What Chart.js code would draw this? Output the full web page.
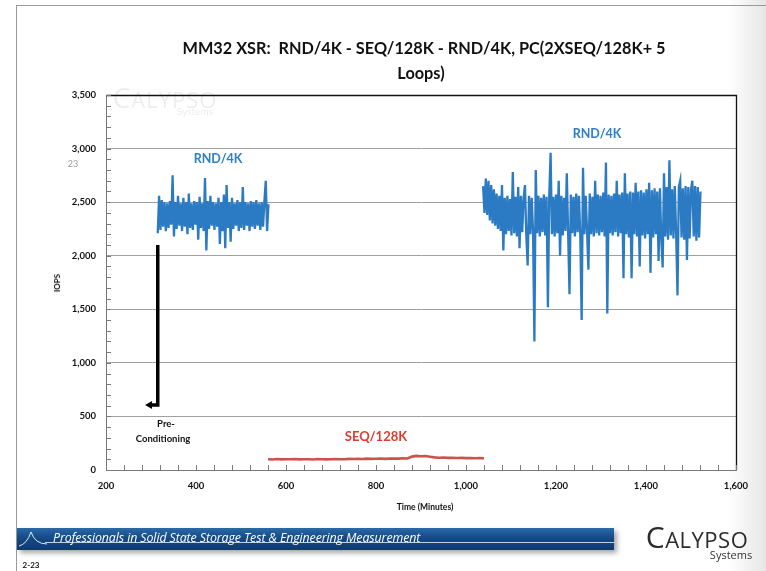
<!DOCTYPE html>
<html>
<head>
<meta charset="utf-8">
<script src="https://cdn.jsdelivr.net/npm/chart.js@4.4.1/dist/chart.umd.min.js"></script>
<style>
  html,body{margin:0;padding:0;}
  body{width:766px;height:571px;overflow:hidden;position:relative;
    background:linear-gradient(to right,#ffffff 0%,#ffffff 95%,#e6e6e6 100%);
    font-family:Lato,"Open Sans",sans-serif;}
  #frameTop{position:absolute;left:16px;top:5px;width:750px;height:1px;background:#9a9a9a;}
  #frameLeft{position:absolute;left:16px;top:5px;width:1px;height:566px;background:#9a9a9a;}
  canvas{position:absolute;left:0;top:0;}
  .t{position:absolute;white-space:nowrap;transform:translate(-50%,-50%);font-weight:700;}
  #banner{position:absolute;left:17px;top:528px;width:597px;height:22px;
    background:linear-gradient(to bottom,#2a6aa8 0%,#154a85 45%,#0f3a6c 100%);
    box-shadow:3px 3px 5px rgba(0,0,0,0.35);}
  #bannerLine{position:absolute;left:28px;top:14px;width:569px;height:1px;background:rgba(220,235,250,0.85);}
  #bannerText{position:absolute;left:36px;top:1px;color:#ffffff;font-style:italic;font-size:12.4px;
    font-family:"Open Sans",Lato,sans-serif;letter-spacing:-0.1px;}
</style>
</head>
<body>
<div id="frameTop"></div>
<div id="frameLeft"></div>
<canvas id="c" width="766" height="571"></canvas>

<!-- watermark -->
<div class="t" style="left:165px;top:97px;font-size:22px;font-weight:400;color:rgba(0,0,0,0.07);letter-spacing:1px;font-family:'Open Sans'"><span style="font-size:28px">C</span>ALYPSO</div>
<div class="t" style="left:195px;top:111px;font-size:10px;font-weight:400;color:rgba(0,0,0,0.08);">Systems</div>

<div class="t" style="left:424px;top:47px;font-size:16.3px;color:#111;">MM32 XSR:&nbsp; RND/4K - SEQ/128K - RND/4K, PC(2XSEQ/128K+ 5</div>
<div class="t" style="left:421px;top:72px;font-size:16.3px;color:#111;">Loops)</div>

<div class="t" style="left:73px;top:163px;font-size:9px;font-weight:400;color:#9a9a9a;">23</div>

<div class="t" style="left:218px;top:158px;font-size:12.5px;color:#2f80c8;">RND/4K</div>
<div class="t" style="left:597px;top:133px;font-size:12.5px;color:#2f80c8;">RND/4K</div>
<div class="t" style="left:376px;top:436px;font-size:13px;color:#e23b2e;">SEQ/128K</div>
<div class="t" style="left:166px;top:423px;font-size:9.5px;color:#111;">Pre-</div>
<div class="t" style="left:163px;top:438px;font-size:9.5px;color:#111;">Conditioning</div>

<div class="t" style="left:57px;top:283px;font-size:8px;color:#111;transform:translate(-50%,-50%) rotate(-90deg);">IOPS</div>
<div class="t" style="left:425px;top:507px;font-size:8.5px;color:#111;">Time (Minutes)</div>

<div id="banner">
  <svg width="30" height="22" style="position:absolute;left:0;top:0">
    <path d="M2 18 Q10 16 14 4 Q18 16 30 16" stroke="#dce9f7" stroke-width="1" fill="none"/>
  </svg>
  <div id="bannerLine"></div>
  <div id="bannerText">Professionals in Solid State Storage Test &amp; Engineering Measurement</div>
</div>

<div class="t" style="left:697px;top:536px;font-size:22px;font-weight:400;color:#2b2b2b;font-family:'Open Sans';letter-spacing:0.5px;"><span style="font-size:30px;">C</span>ALYPSO</div>
<div class="t" style="left:731px;top:554px;font-size:11px;font-weight:400;color:#333;font-family:'Open Sans';">Systems</div>
<div class="t" style="left:31px;top:565px;font-size:8px;color:#111;">2-23</div>

<script>
// ---------- data ----------
const xTickLabels = ['200','400','600','800','1,000','1,200','1,400','1,600'];
const yTickLabels = ['0','500','1,000','1,500','2,000','2,500','3,000','3,500'];

// RND/4K (pre-conditioning run) sampled every 3 minutes starting at 315 min
const rnd1Start = 315, rnd1Step = 3;
const rnd1Iops = [
 2210,2560,2240,2520,2270,2500,2230,2490,2260,2510,2290,2750,2180,2500,2250,2560,2280,2490,2230,2540,
 2270,2500,2200,2580,2260,2490,2240,2510,2290,2500,2150,2550,2260,2490,2230,2725,2050,2510,2250,2560,
 2280,2500,2240,2490,2270,2540,2110,2500,2230,2570,2070,2660,2260,2500,2130,2540,2250,2490,2280,2520,
 2230,2500,2260,2640,2240,2500,2280,2490,2230,2510,2270,2500,2250,2520,2280,2490,2240,2500,2270,2510,
 2700,2230,2480
];

// SEQ/128K sampled every 10 minutes starting at 560 min
const seqStart = 560, seqStep = 10;
const seqIops = [
 100,98,102,99,101,100,103,99,101,100,98,102,101,99,100,103,101,100,104,102,
 105,103,106,104,105,107,104,106,108,106,109,107,125,132,128,130,124,118,115,116,
 113,114,112,113,111,112,110,111,110
];

// RND/4K (after SEQ/128K) sampled every 3 minutes starting at 1038 min
const rnd2Start = 1038, rnd2Step = 3;
const rnd2Iops = [
 2650,2400,2720,2380,2700,2330,2660,2300,2620,2280,2580,2250,2560,2230,2660,2050,2540,2200,2560,2230,
 2530,2190,2780,2210,2550,2180,2640,2070,2560,2220,2530,2660,2190,1910,2560,2200,2540,2230,1200,2800,
 2210,2560,2180,2540,2220,2570,2190,2550,1520,2560,2960,2200,2550,2180,2570,2210,2700,2000,2560,2190,
 2540,2230,2770,2200,1640,2570,2210,2550,2180,2580,2220,2560,2190,1400,2820,2200,2560,2230,1870,2580,
 2200,2550,2180,2700,2210,2570,2190,2560,2220,2590,2180,2870,1460,2570,2210,2560,2190,2580,2220,2700,
 2180,2570,2210,2590,1790,2770,2200,2580,2170,2600,1790,2590,2200,2680,2180,2600,1900,2610,2190,2590,
 2160,2620,2200,2680,1840,2610,2170,2630,2200,2600,1950,2630,2160,1890,2770,2180,2640,2150,2890,2190,
 2620,2160,2650,2200,1630,2640,2700,2170,2630,2150,2650,1960,2640,2160,2620,2700,2180,2650,2140,2640,
 2170,2600
];

// Pre-conditioning arrow (data coordinates)
const arrowX = 315, arrowTopY = 2100, arrowBottomY = 607, arrowTipX = 289;

// ---------- build points ----------
function toPoints(start, step, vals){ return vals.map((v,i)=>({x:start+i*step, y:v})); }

const blue = '#2b7bc4';
const red = '#c8554d';
const tickFont = {family:'Lato', size:9.5, weight:'bold'};

const framePlugin = {
  id:'frame',
  afterDraw(chart){
    const {ctx, chartArea:a, scales:{x,y}} = chart;
    ctx.save();
    ctx.strokeStyle = '#111'; ctx.lineWidth = 1.3;
    ctx.beginPath();
    ctx.moveTo(a.left, a.top+0.5); ctx.lineTo(a.right+0.5, a.top+0.5); ctx.lineTo(a.right+0.5, a.bottom);
    ctx.stroke();
    ctx.strokeStyle = '#7a7a7a'; ctx.lineWidth = 1;
    ctx.beginPath();
    for(let v=200; v<=1600; v+=40){
      const px = Math.round(x.getPixelForValue(v))+0.5;
      ctx.moveTo(px, a.bottom); ctx.lineTo(px, a.bottom-5);
    }
    for(let v=0; v<=3500; v+=100){
      const py = Math.round(y.getPixelForValue(v))+0.5;
      ctx.moveTo(a.left, py); ctx.lineTo(a.left+5, py);
    }
    ctx.stroke();
    const ax = x.getPixelForValue(arrowX);
    const at = y.getPixelForValue(arrowTopY);
    const ab = y.getPixelForValue(arrowBottomY);
    const tip = x.getPixelForValue(arrowTipX);
    ctx.strokeStyle = '#000'; ctx.lineWidth = 3.5; ctx.lineCap='butt'; ctx.lineJoin='miter';
    ctx.beginPath();
    ctx.moveTo(ax, at); ctx.lineTo(ax, ab); ctx.lineTo(tip+4, ab);
    ctx.stroke();
    ctx.fillStyle = '#000';
    ctx.beginPath();
    ctx.moveTo(tip-1, ab); ctx.lineTo(tip+6, ab-4); ctx.lineTo(tip+6, ab+4); ctx.closePath();
    ctx.fill();
    ctx.restore();
  }
};

new Chart(document.getElementById('c'), {
  type:'line',
  data:{
    datasets:[
      {label:'RND/4K', data:toPoints(rnd1Start, rnd1Step, rnd1Iops), borderColor:blue, borderWidth:2.3, pointRadius:0, tension:0},
      {label:'SEQ/128K', data:toPoints(seqStart, seqStep, seqIops), borderColor:red, borderWidth:2.6, pointRadius:0, tension:0},
      {label:'RND/4K', data:toPoints(rnd2Start, rnd2Step, rnd2Iops), borderColor:blue, borderWidth:2.3, pointRadius:0, tension:0}
    ]
  },
  options:{
    responsive:false, animation:false,
    layout:{padding:{left:56, top:95, right:30, bottom:51}},
    plugins:{legend:{display:false}, tooltip:{enabled:false}},
    scales:{
      x:{type:'linear', min:200, max:1600,
        ticks:{stepSize:200, padding:10, maxRotation:0, autoSkip:false, color:'#111', font:tickFont,
          callback:(v)=>{const i=Math.round((v-200)/200); return xTickLabels[i];}},
        grid:{display:false, drawTicks:false},
        border:{display:true, color:'#777', width:1},
        afterFit:(s)=>{s.height=50;}
      },
      y:{min:0, max:3500,
        ticks:{stepSize:500, padding:10, color:'#111', font:tickFont,
          callback:(v)=>yTickLabels[Math.round(v/500)]},
        grid:{color:'#a0a0a0', drawTicks:false, lineWidth:1},
        border:{display:true, color:'#777', width:1},
        afterFit:(s)=>{s.width=50;}
      }
    }
  },
  plugins:[framePlugin]
});
</script>
</body>
</html>
